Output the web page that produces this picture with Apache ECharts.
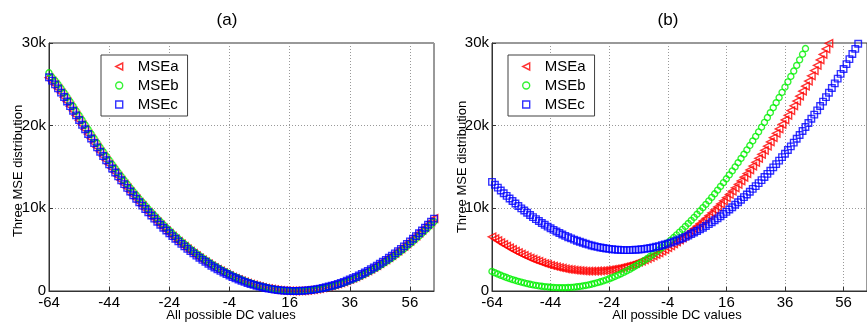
<!DOCTYPE html>
<html><head><meta charset="utf-8">
<script src="https://cdn.jsdelivr.net/npm/echarts@6/dist/echarts.min.js"></script>
<style>html,body{margin:0;padding:0;background:#fff}#c{width:867px;height:327px}</style>
</head><body><div id="c"></div>
<script>
// ---- data ----
const dcValues = [-64,-63,-62,-61,-60,-59,-58,-57,-56,-55,-54,-53,-52,-51,-50,-49,-48,-47,-46,-45,-44,-43,-42,-41,-40,-39,-38,-37,-36,-35,-34,-33,-32,-31,-30,-29,-28,-27,-26,-25,-24,-23,-22,-21,-20,-19,-18,-17,-16,-15,-14,-13,-12,-11,-10,-9,-8,-7,-6,-5,-4,-3,-2,-1,0,1,2,3,4,5,6,7,8,9,10,11,12,13,14,15,16,17,18,19,20,21,22,23,24,25,26,27,28,29,30,31,32,33,34,35,36,37,38,39,40,41,42,43,44,45,46,47,48,49,50,51,52,53,54,55,56,57,58,59,60,61,62,63,64];
const seriesNames = ['MSEa','MSEb','MSEc'];
const panelTitles = ['(a)','(b)'];
const xAxisTitle = 'All possible DC values';
const yAxisTitle = 'Three MSE distribution';
const yTickLabels = ['0','10k','20k','30k'];

// panel (a)
const aMSEa = [25800,25400,24960,24480,23970,23440,22900,22350,21790,21230,
20670,20100,19550,18990,18440,17900,17370,16840,16320,15810,
15310,14810,14330,13850,13380,12920,12470,12020,11580,11150,
10730,10320,9910,9520,9130,8750,8370,8010,7650,7310,
6970,6630,6310,5990,5690,5390,5090,4810,4540,4270,
4010,3760,3520,3280,3050,2830,2620,2420,2230,2040,
1860,1690,1530,1380,1230,1090,960,840,730,620,
530,440,360,280,220,160,110,70,40,20,
10,0,0,10,30,60,90,130,180,240,
300,380,460,550,640,750,860,980,1110,1250,
1400,1550,1710,1880,2060,2250,2440,2640,2850,3070,
3300,3540,3780,4030,4290,4560,4830,5110,5410,5710,
6010,6330,6650,6990,7330,7680,8030,8390,8770];
const aMSEb = [26400,25850,25450,25000,24510,24000,23460,22920,22360,21800,
21240,20680,20110,19560,19000,18450,17910,17380,16850,16330,
15820,15320,14820,14340,13860,13390,12930,12480,12030,11590,
11160,10740,10330,9920,9530,9140,8760,8380,8020,7660,
7320,6980,6640,6320,6000,5700,5400,5100,4820,4550,
4280,4020,3770,3530,3290,3060,2840,2630,2430,2240,
2050,1870,1700,1540,1390,1240,1100,970,850,740,
630,540,450,370,290,230,170,120,80,50,
30,10,0,0,10,30,50,80,120,170,
230,290,370,450,540,630,740,850,970,1100,
1240,1390,1540,1700,1870,2050,2240,2430,2630,2840,
3060,3290,3530,3770,4020,4280,4550,4820,5100,5400,
5700,6000,6320,6640,6980,7320,7660,8020,8380];
const aMSEc = [25850,25450,25000,24510,24000,23460,22920,22360,21800,21240,
20680,20110,19560,19000,18450,17910,17380,16850,16330,15820,
15320,14820,14340,13860,13390,12930,12480,12030,11590,11160,
10740,10330,9920,9530,9140,8760,8380,8020,7660,7320,
6980,6640,6320,6000,5700,5400,5100,4820,4550,4280,
4020,3770,3530,3290,3060,2840,2630,2430,2240,2050,
1870,1700,1540,1390,1240,1100,970,850,740,630,
540,450,370,290,230,170,120,80,50,30,
10,0,0,10,30,50,80,120,170,230,
290,370,450,540,630,740,850,970,1100,1240,
1390,1540,1700,1870,2050,2240,2430,2630,2840,3060,
3290,3530,3770,4020,4280,4550,4820,5100,5400,5700,
6000,6320,6640,6980,7320,7660,8020,8380,8760];

// panel (b)
const bMSEa = [6560,6320,6090,5860,5640,5430,5220,5020,4830,4650,
4470,4300,4140,3990,3840,3700,3570,3440,3320,3210,
3110,3010,2920,2840,2760,2690,2630,2580,2530,2490,
2460,2430,2410,2400,2400,2400,2420,2440,2470,2500,
2550,2610,2670,2740,2820,2910,3000,3110,3220,3340,
3480,3610,3760,3920,4080,4250,4430,4620,4820,5020,
5240,5460,5690,5930,6180,6440,6700,6970,7260,7550,
7840,8150,8470,8790,9120,9460,9810,10170,10530,10910,
11290,11680,12080,12480,12900,13320,13760,14200,14650,15110,
15570,16050,16530,17020,17520,18030,18550,19070,19600,20150,
20700,21250,21820,22400,22980,23570,24170,24780,25400,26030,
26660,27300,27950,28610,29280,29960,30640];
const bMSEb = [2360,2200,2050,1900,1760,1630,1500,1380,1270,1170,
1070,980,890,810,740,680,620,570,520,490,
450,430,410,400,400,400,420,440,470,510,
550,610,670,740,820,910,1010,1110,1220,1350,
1480,1610,1760,1920,2080,2250,2430,2620,2820,3030,
3240,3460,3690,3930,4180,4440,4700,4970,5260,5550,
5840,6150,6470,6790,7120,7460,7810,8170,8530,8910,
9290,9680,10080,10480,10900,11320,11760,12200,12650,13110,
13570,14050,14530,15020,15520,16030,16550,17070,17600,18150,
18700,19250,19820,20400,20980,21570,22170,22780,23400,24030,
24660,25300,25950,26610,27280,27960,28640,29330,30040];
const bMSEc = [13200,12850,12500,12160,11830,11510,11190,10880,10580,10290,
10000,9730,9460,9200,8940,8700,8460,8230,8010,7790,
7590,7390,7200,7010,6840,6670,6510,6360,6210,6080,
5950,5830,5710,5610,5510,5420,5340,5270,5200,5140,
5090,5050,5010,4990,4970,4950,4950,4950,4970,4990,
5010,5050,5090,5150,5210,5270,5350,5430,5530,5630,
5730,5850,5970,6110,6250,6390,6550,6710,6890,7070,
7250,7450,7650,7870,8090,8310,8550,8790,9050,9310,
9570,9850,10130,10430,10730,11030,11350,11670,12010,12350,
12690,13050,13410,13790,14170,14550,14950,15350,15770,16190,
16610,17050,17490,17950,18410,18870,19350,19830,20330,20830,
21330,21850,22370,22910,23450,23990,24550,25110,25690,26270,
26850,27450,28050,28670,29290,29910,30550];

// ---- chart ----
const FONT = '"Liberation Sans", Arial, sans-serif';
const pair = vals => vals.map((v, i) => [dcValues[i], v]);
const colors = ['#ff0000', '#00f000', '#0000ff'];
const styles = [
  {symbol: 'triangle', symbolRotate: 90, symbolSize: 7.5},
  {symbol: 'circle', symbolRotate: 0, symbolSize: 6},
  {symbol: 'rect', symbolRotate: 0, symbolSize: 6.5}
];
const legendIcons = ['path://M10,0 L10,10 L0,5 Z', 'circle', 'rect'];
const panels = [[aMSEa, aMSEb, aMSEc], [bMSEa, bMSEb, bMSEc]];
const grids = [
  {left: 49, top: 43, width: 385, height: 248},
  {left: 492, top: 43, width: 384, height: 248}
];
const gridLine = {show: true, lineStyle: {color: '#999', type: [1, 2], width: 1}};
const series = [];
panels.forEach((p, gi) => {
  p.forEach((vals, si) => {
    const s = styles[si];
    series.push({
      name: seriesNames[si], type: 'scatter', xAxisIndex: gi, yAxisIndex: gi,
      data: pair(vals), symbol: s.symbol, symbolRotate: s.symbolRotate, symbolSize: s.symbolSize,
      itemStyle: {color: 'rgba(0,0,0,0)', borderColor: colors[si], borderWidth: 1.4},
      emphasis: {disabled: true}, animation: false, clip: true
    });
  });
});
const axisLineStyle = {show: true, onZero: false, lineStyle: {color: '#333'}};
const xAxes = grids.map((g, i) => ({
  type: 'value', gridIndex: i, min: -64, max: 64, interval: 20,
  axisLine: axisLineStyle,
  axisTick: {show: true, inside: true, length: 4, lineStyle: {color: '#333'}},
  axisLabel: {color: '#000', fontSize: 15, fontFamily: FONT, margin: 4, showMaxLabel: false},
  splitLine: gridLine
}));
const yAxes = grids.map((g, i) => ({
  type: 'value', gridIndex: i, min: 0, max: 30000, interval: 10000,
  axisLine: axisLineStyle,
  axisTick: {show: true, inside: true, length: 4, lineStyle: {color: '#333'}},
  axisLabel: {color: '#000', fontSize: 15, fontFamily: FONT, margin: 3,
    formatter: v => yTickLabels[Math.round(v / 10000)]},
  splitLine: gridLine
}));
const legendData = seriesNames.map((n, i) => ({
  name: n, icon: legendIcons[i],
  itemStyle: {color: 'rgba(0,0,0,0)', borderColor: colors[i], borderWidth: 1.4}
}));
const legendBase = {
  orient: 'vertical', top: 55, data: legendData, selectedMode: false,
  itemWidth: 7, itemHeight: 7, itemGap: 4, padding: [4, 9, 4, 14],
  borderColor: '#404040', borderWidth: 1, backgroundColor: '#fff',
  textStyle: {fontSize: 15, fontFamily: FONT, color: '#000', lineHeight: 15, padding: [0, 0, 0, 10]}
};
const txt = (text, x, y, size, rot) => ({
  type: 'text', x: x, y: y, rotation: rot || 0, z: 100,
  style: {text: text, font: size + 'px ' + FONT, fill: '#000',
    align: 'center', verticalAlign: 'middle', textAlign: 'center', textVerticalAlign: 'middle'}
});
const option = {
  backgroundColor: '#fff',
  animation: false,
  grid: grids.map(g => Object.assign({show: true, borderColor: '#333', borderWidth: 1, backgroundColor: 'transparent'}, g)),
  xAxis: xAxes,
  yAxis: yAxes,
  legend: [Object.assign({left: 101}, legendBase), Object.assign({left: 508}, legendBase)],
  graphic: [
    txt(panelTitles[0], 227, 20, 17),
    txt(panelTitles[1], 668, 20, 17),
    txt(xAxisTitle, 231, 315, 13),
    txt(xAxisTitle, 677, 315, 13),
    txt(yAxisTitle, 18, 171, 13, Math.PI / 2),
    txt(yAxisTitle, 462, 167, 13, Math.PI / 2)
  ],
  series: series
};
const chart = echarts.init(document.getElementById('c'), null, {renderer: 'canvas'});
chart.setOption(option);
</script>
</body></html>
